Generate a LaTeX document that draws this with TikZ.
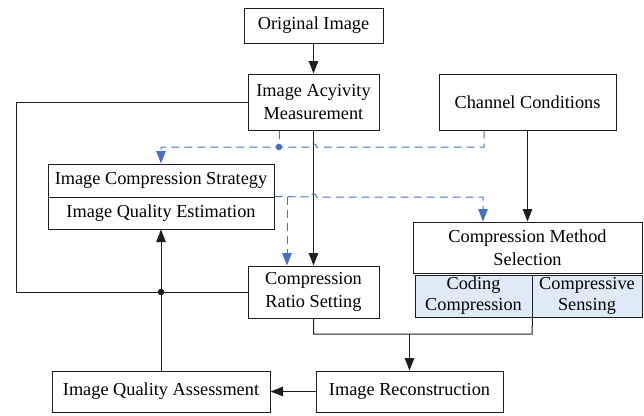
\documentclass[tikz,border=0pt]{standalone}
\usepackage{fontspec}
\setmainfont{Liberation Serif}
\usetikzlibrary{arrows.meta}
\definecolor{lineblue}{RGB}{68,114,196}
\definecolor{subfill}{RGB}{222,235,246}
\definecolor{edge}{RGB}{30,30,30}
\begin{document}
\begin{tikzpicture}[x=1pt,y=-1pt,
  box/.style={draw=edge,line width=1pt,rectangle,inner sep=0pt,align=center,
    font=\fontsize{18.3}{23.5}\selectfont},
  subbox/.style={box,fill=subfill,font=\fontsize{18.3}{21}\selectfont},
  conn/.style={draw=edge,line width=1pt},
  arr/.style={conn,-{Triangle[length=12.5pt,width=9.5pt]}},
  bdash/.style={draw=lineblue,line width=1pt,dash pattern=on 8pt off 5pt},
  barr/.style={bdash,-{Triangle[length=12.5pt,width=9.5pt]}},
]
\useasboundingbox (0,0) rectangle (644,415);

% nodes
\node[box,minimum width=139,minimum height=35] (orig) at (313.5,25.5) {Original Image};
\node[box,minimum width=131,minimum height=56] (act) at (313.5,102) {Image Acyivity\\Measurement};
\node[box,minimum width=177,minimum height=56] (chan) at (527.5,102) {Channel Conditions};
\node[box,minimum width=226,minimum height=33] (strat) at (161,180.5) {Image Compression Strategy};
\node[box,minimum width=226,minimum height=32] (est) at (161,213) {Image Quality Estimation};
\node[box,minimum width=229,minimum height=51] (sel) at (527.5,247.5) {Compression Method\\Selection};
\node[subbox,minimum width=117,minimum height=42] (cod) at (473.5,296) {Coding\\Compression};
\node[subbox,minimum width=110,minimum height=42] (sens) at (587,296) {Compressive\\Sensing};
\node[box,minimum width=131,minimum height=52] (ratio) at (313.5,292) {Compression\\Ratio Setting};
\node[box,minimum width=218,minimum height=41] (iqa) at (161,391.5) {Image Quality Assessment};
\node[box,minimum width=187,minimum height=41] (rec) at (409.5,391.5) {Image Reconstruction};

% junction coordinates
\coordinate (l1) at (16,102);
\coordinate (l2) at (16,292);
\coordinate (m1) at (313.5,334);
\coordinate (m2) at (532,334);
\coordinate (b1) at (484,147);
\coordinate (b2) at (161,147);
\coordinate (bd) at (279,147);
\coordinate (c1) at (287,197);
\coordinate (c2) at (483,197);

% black connectors
\draw[arr] (orig.south) -- (act.north);
\draw[arr] (act.south) -- (ratio.north);
\draw[arr] (chan.south) -- (sel.north);
\draw[conn] (act.west) -- (l1) -- (l2) -- (ratio.west);
\draw[arr] (iqa.north) -- (est.south);
\fill[edge] (iqa.north |- l2) circle (3.3);
\draw[conn] (ratio.south) -- (m1) -- (m2) -- (cod.south east);
\draw[arr] (rec.north |- m1) -- (rec.north);
\draw[arr] (rec.west) -- (iqa.east);

% blue dashed connectors
\draw[barr] (chan.south -| b1) -- (b1) -- (316.5,147)
  .. controls (316.5,142.5) and (310.5,142.5) .. (310.5,147) -- (b2) -- (strat.north);
\draw[bdash] (act.south -| bd) -- (bd);
\fill[lineblue] (bd) circle (3.3);
\draw[barr] (est.north east) -- (310.5,197)
  .. controls (310.5,192.5) and (316.5,192.5) .. (316.5,197) -- (c2) -- (sel.north -| c2);
\draw[barr] (c1) -- (ratio.north -| c1);
\end{tikzpicture}
\end{document}
